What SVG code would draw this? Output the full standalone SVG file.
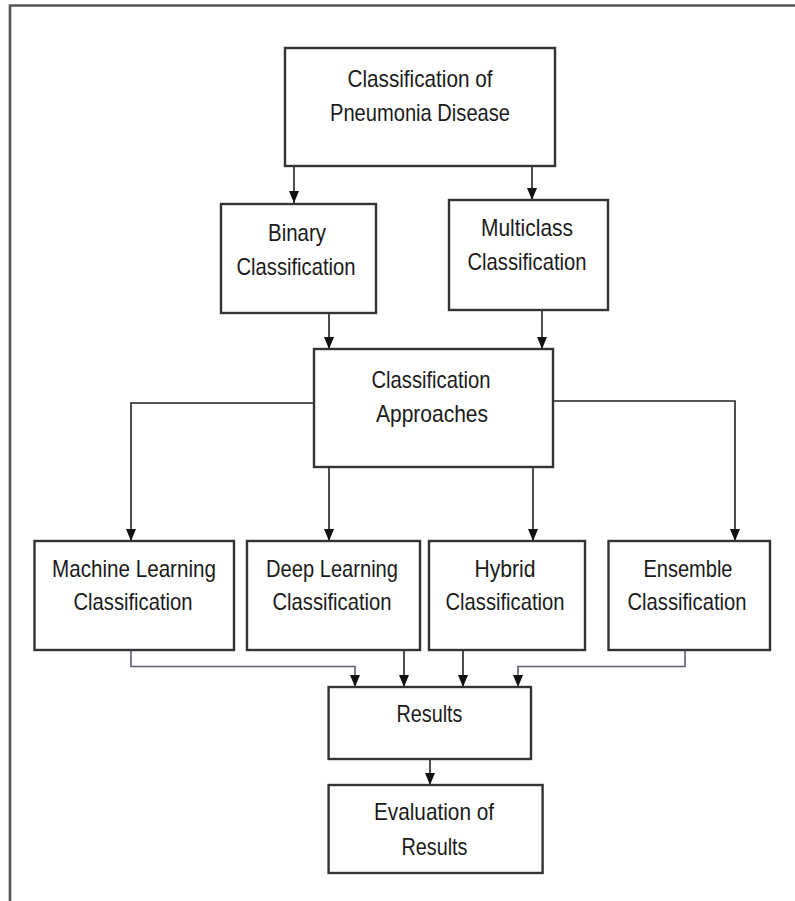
<svg xmlns="http://www.w3.org/2000/svg" width="795" height="901" viewBox="0 0 795 901">
<style>
.box{fill:#fff;stroke:#333;stroke-width:2.4}
.t{font-family:"Liberation Sans",Arial,sans-serif;font-size:24px;fill:#1a1a1a;text-anchor:middle}
.c{fill:none;stroke:#222;stroke-width:1.6}
.cb{fill:none;stroke:#5a6070;stroke-width:1.6}
.frame{fill:none;stroke:#555;stroke-width:2.6}
</style>
<defs>
<marker id="ah" viewBox="0 0 12 10" refX="12" refY="5" markerWidth="12" markerHeight="10" orient="auto" markerUnits="userSpaceOnUse">
<path d="M0,0 L12,5 L0,10 z" fill="#111"/>
</marker>
</defs>
<rect width="795" height="901" fill="#fff"/>
<path class="frame" d="M10,901 V5.5 H795"/>

<g id="connectors">
<path class="c" d="M294,166 V203" marker-end="url(#ah)"/>
<path class="c" d="M532,166 V200" marker-end="url(#ah)"/>
<path class="c" d="M329,313 V349" marker-end="url(#ah)"/>
<path class="c" d="M542,310 V349" marker-end="url(#ah)"/>
<path class="c" d="M314,403 H131 V541" marker-end="url(#ah)"/>
<path class="c" d="M553,401 H735 V541" marker-end="url(#ah)"/>
<path class="c" d="M329,467 V541" marker-end="url(#ah)"/>
<path class="c" d="M533,467 V541" marker-end="url(#ah)"/>
<path class="cb" d="M131,650 V666.5 H355 V687" marker-end="url(#ah)"/>
<path class="cb" d="M685,650 V666.5 H518 V687" marker-end="url(#ah)"/>
<path class="c" d="M404,650 V687" marker-end="url(#ah)"/>
<path class="c" d="M463,650 V687" marker-end="url(#ah)"/>
<path class="c" d="M430,759 V785" marker-end="url(#ah)"/>
</g>

<g id="node-top">
<rect class="box" x="285" y="48" width="270" height="118"/>
<text class="t" x="420" y="87" textLength="145" lengthAdjust="spacingAndGlyphs">Classification of</text>
<text class="t" x="420" y="121" textLength="180" lengthAdjust="spacingAndGlyphs">Pneumonia Disease</text>
</g>
<g id="node-binary">
<rect class="box" x="221" y="204" width="155" height="109"/>
<text class="t" x="297" y="241" textLength="58" lengthAdjust="spacingAndGlyphs">Binary</text>
<text class="t" x="296" y="275" textLength="119" lengthAdjust="spacingAndGlyphs">Classification</text>
</g>
<g id="node-multiclass">
<rect class="box" x="449" y="200" width="159" height="110"/>
<text class="t" x="527" y="236" textLength="92" lengthAdjust="spacingAndGlyphs">Multiclass</text>
<text class="t" x="527" y="270" textLength="119" lengthAdjust="spacingAndGlyphs">Classification</text>
</g>
<g id="node-approaches">
<rect class="box" x="314" y="349" width="239" height="118"/>
<text class="t" x="431" y="388" textLength="119" lengthAdjust="spacingAndGlyphs">Classification</text>
<text class="t" x="432" y="422" textLength="112" lengthAdjust="spacingAndGlyphs">Approaches</text>
</g>
<g id="node-ml">
<rect class="box" x="34.5" y="541" width="199.5" height="109"/>
<text class="t" x="134" y="577" textLength="164" lengthAdjust="spacingAndGlyphs">Machine Learning</text>
<text class="t" x="133" y="610" textLength="119" lengthAdjust="spacingAndGlyphs">Classification</text>
</g>
<g id="node-dl">
<rect class="box" x="247" y="541" width="173" height="109"/>
<text class="t" x="332" y="577" textLength="132" lengthAdjust="spacingAndGlyphs">Deep Learning</text>
<text class="t" x="332" y="610" textLength="119" lengthAdjust="spacingAndGlyphs">Classification</text>
</g>
<g id="node-hybrid">
<rect class="box" x="429" y="541" width="156" height="109"/>
<text class="t" x="505" y="577" textLength="61" lengthAdjust="spacingAndGlyphs">Hybrid</text>
<text class="t" x="505" y="610" textLength="119" lengthAdjust="spacingAndGlyphs">Classification</text>
</g>
<g id="node-ensemble">
<rect class="box" x="608.5" y="541" width="161.5" height="109"/>
<text class="t" x="688" y="577" textLength="89" lengthAdjust="spacingAndGlyphs">Ensemble</text>
<text class="t" x="687" y="610" textLength="119" lengthAdjust="spacingAndGlyphs">Classification</text>
</g>
<g id="node-results">
<rect class="box" x="328.6" y="687" width="202.4" height="72"/>
<text class="t" x="429.5" y="722" textLength="66" lengthAdjust="spacingAndGlyphs">Results</text>
</g>
<g id="node-evaluation">
<rect class="box" x="328.6" y="785" width="214" height="88"/>
<text class="t" x="434" y="820" textLength="120" lengthAdjust="spacingAndGlyphs">Evaluation of</text>
<text class="t" x="434.5" y="855" textLength="66" lengthAdjust="spacingAndGlyphs">Results</text>
</g>
</svg>
